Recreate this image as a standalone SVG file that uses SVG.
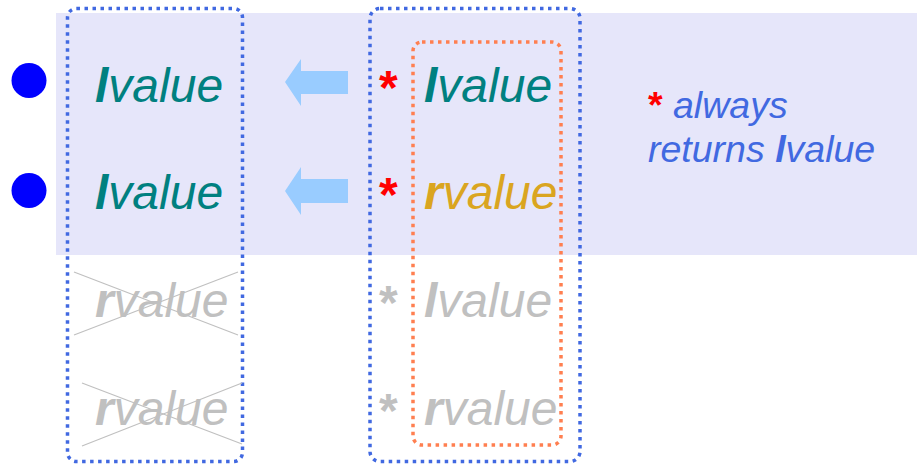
<svg xmlns="http://www.w3.org/2000/svg" width="917" height="465" viewBox="0 0 917 465">
<style>
text{font-family:"Liberation Sans",Arial,sans-serif}
.big{font-size:48px;font-style:italic}
.b{font-weight:bold}
.teal{fill:#008080}
.gold{fill:#daa520}
.gray{fill:#c0c0c0}
.red{fill:#ff0000}
.ast{font-size:48px;font-weight:bold}
.note{font-size:37.5px;font-style:italic;fill:#4169e1}
.dotblue{fill:none;stroke:#4169e1;stroke-width:3.5;stroke-dasharray:3.5 4.5}
.dotorange{fill:none;stroke:#ff7f50;stroke-width:3.5;stroke-dasharray:3.5 4.5}
.cross{stroke:#c0c0c0;stroke-width:1.2}
.arrow{fill:#99ccff}
.dot{fill:#0000ff}
</style>
<rect x="56" y="13" width="861" height="242" fill="#e6e6fa"/>
<g id="bullets">
<circle class="dot" cx="29" cy="80.5" r="17.5"/>
<circle class="dot" cx="29" cy="190.5" r="17.5"/>
</g>
<g id="left-column">
<rect class="dotblue" x="67.5" y="8.5" width="175" height="453" rx="9"/>
<text class="big teal" x="95" y="102"><tspan class="b">l</tspan>value</text>
<text class="big teal" x="95" y="209"><tspan class="b">l</tspan>value</text>
<text class="big gray" x="95" y="317"><tspan class="b">r</tspan>value</text>
<text class="big gray" x="95" y="425"><tspan class="b">r</tspan>value</text>
</g>
<g id="crosses">
<line class="cross" x1="74" y1="272" x2="238" y2="335"/>
<line class="cross" x1="74" y1="335" x2="238" y2="272"/>
<line class="cross" x1="82" y1="383" x2="242" y2="444"/>
<line class="cross" x1="82" y1="446" x2="242" y2="383"/>
</g>
<g id="connectors">
<polygon class="arrow" points="285,82 301,59 301,71 348,71 348,94 301,94 301,106"/>
<polygon class="arrow" points="285,191 301,167 301,179 348,179 348,203 301,203 301,215"/>
</g>
<g id="right-column">
<rect class="dotblue" x="370" y="8.5" width="210" height="453" rx="10"/>
<rect class="dotorange" x="413" y="42" width="148" height="403" rx="9"/>
<text class="ast red" x="379" y="104">*</text>
<text class="ast red" x="379" y="211">*</text>
<text class="ast gray" x="379" y="319">*</text>
<text class="ast gray" x="379" y="427">*</text>
<text class="big teal" x="424" y="102"><tspan class="b">l</tspan>value</text>
<text class="big gold" x="424" y="209"><tspan class="b">r</tspan>value</text>
<text class="big gray" x="424" y="317"><tspan class="b">l</tspan>value</text>
<text class="big gray" x="424" y="425"><tspan class="b">r</tspan>value</text>
</g>
<g id="note">
<text class="note" x="648" y="118"><tspan class="red" font-weight="bold" font-style="normal">*</tspan> always</text>
<text class="note" x="648" y="162">returns <tspan class="b">l</tspan>value</text>
</g>
</svg>
